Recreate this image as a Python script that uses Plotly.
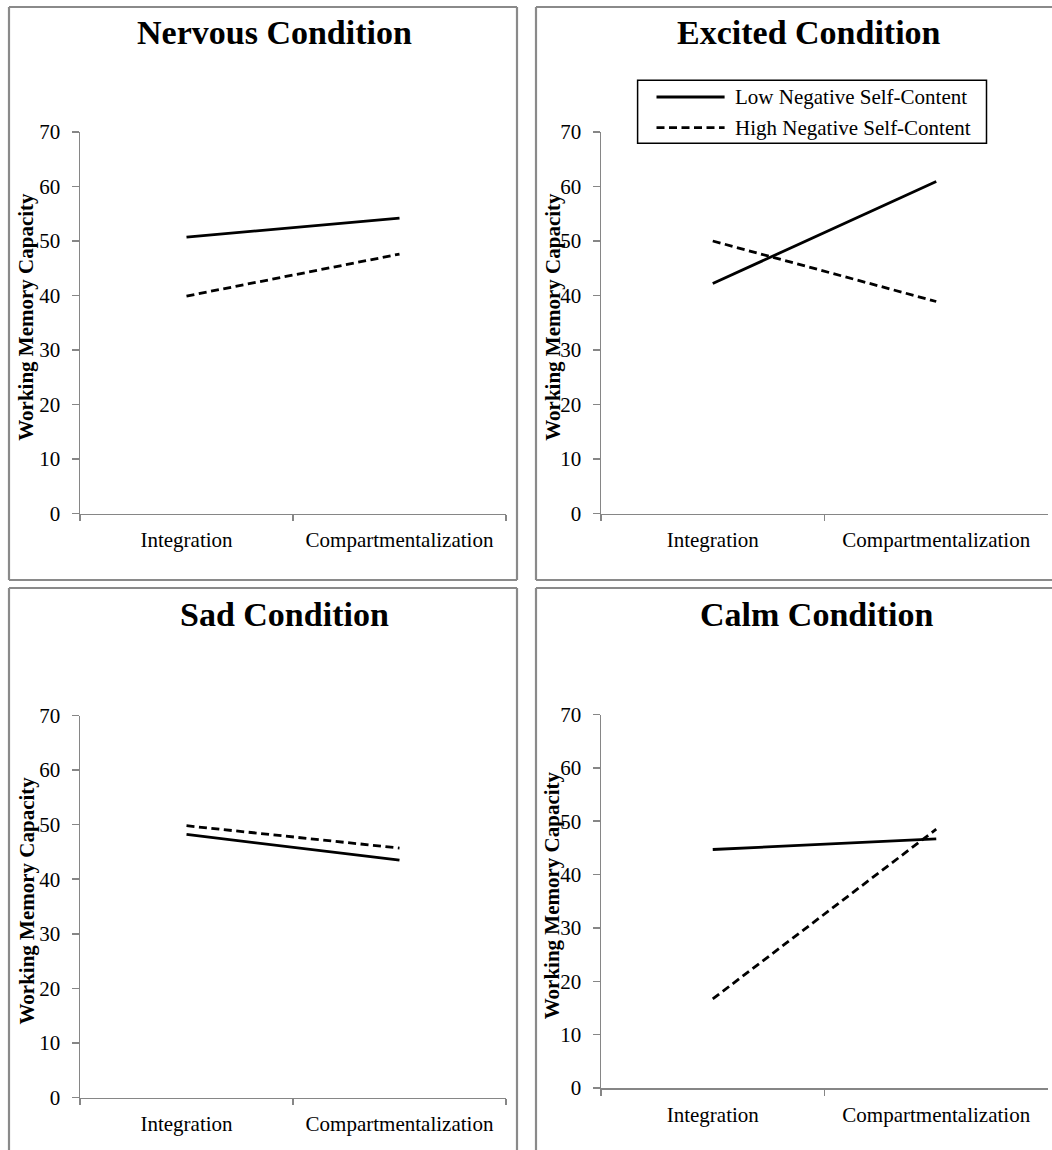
import plotly.graph_objects as go

# ---------------- data ----------------
conditions = ["Nervous Condition", "Excited Condition", "Sad Condition", "Calm Condition"]
strategies = ["Integration", "Compartmentalization"]
series_names = ["Low Negative Self-Content", "High Negative Self-Content"]

low_nervous = [50.7, 54.2]
high_nervous = [39.9, 47.6]
low_excited = [42.2, 60.9]
high_excited = [50.0, 38.9]
low_sad = [48.2, 43.5]
high_sad = [49.8, 45.7]
low_calm = [44.7, 46.7]
high_calm = [16.7, 48.5]

y_ticks = [0, 10, 20, 30, 40, 50, 60, 70]
y_title = "Working Memory Capacity"

W, H = 1052, 1150
FONT = "Liberation Serif, Times New Roman, serif"


def px(x):
    return x / W


def py(y):
    return 1 - y / H


panels = [
    dict(x0=80, x1=506, ytop=132, ybot=513.5, title_x=274, title_y=32, lab_x=26,
         box=(9, 7, 517, 580), open_right=False, open_bottom=False),
    dict(x0=601, x1=1048, ytop=132, ybot=513.5, title_x=809, title_y=32, lab_x=553,
         box=(536, 7, 1052, 580), open_right=True, open_bottom=False),
    dict(x0=80, x1=506, ytop=715.5, ybot=1097.5, title_x=284, title_y=614, lab_x=26,
         box=(9, 588, 517, 1150), open_right=False, open_bottom=True),
    dict(x0=601, x1=1048, ytop=714.5, ybot=1088, title_x=816, title_y=614, lab_x=552,
         box=(536, 588, 1052, 1150), open_right=True, open_bottom=True),
]
low_series = [low_nervous, low_excited, low_sad, low_calm]
high_series = [high_nervous, high_excited, high_sad, high_calm]

fig = go.Figure()
layout = {}
shapes = []
annotations = []

AXIS_GRAY = "#868686"
BORDER_GRAY = "#8a8a8a"
DASH = "8px,4.5px"


def seg(xa, ya, xb, yb, color, width, dash="solid"):
    return dict(type="line", xref="paper", yref="paper",
                x0=px(xa), x1=px(xb), y0=py(ya), y1=py(yb),
                line=dict(color=color, width=width, dash=dash), layer="below")


for i, (p, cond) in enumerate(zip(panels, conditions)):
    k = "" if i == 0 else str(i + 1)
    xa, ya = "x" + k, "y" + k
    fig.add_trace(go.Scatter(
        x=strategies, y=low_series[i], mode="lines", name=series_names[0],
        line=dict(color="black", width=2.8), xaxis=xa, yaxis=ya, showlegend=False))
    fig.add_trace(go.Scatter(
        x=strategies, y=high_series[i], mode="lines", name=series_names[1],
        line=dict(color="black", width=2.8, dash=DASH), xaxis=xa, yaxis=ya, showlegend=False))

    layout["xaxis" + k] = dict(
        domain=[px(p["x0"]), px(p["x1"])], anchor=ya, type="category",
        categoryorder="array", categoryarray=strategies, range=[-0.5, 1.5],
        showline=True, linecolor=AXIS_GRAY, linewidth=1.5, ticks="outside",
        tickson="boundaries", ticklen=6, tickcolor=AXIS_GRAY, tickwidth=1.5,
        showgrid=False, zeroline=False, fixedrange=True, ticklabelstandoff=7,
        automargin=False, tickfont=dict(family=FONT, size=21, color="black"))
    layout["yaxis" + k] = dict(
        domain=[py(p["ybot"]), py(p["ytop"])], anchor=xa, range=[0, 70],
        tickvals=y_ticks, showline=True, linecolor=AXIS_GRAY, linewidth=1.5,
        ticks="outside", ticklen=7, tickcolor=AXIS_GRAY, tickwidth=1.5,
        showgrid=False, zeroline=False, fixedrange=True, ticklabelstandoff=7,
        automargin=False, tickfont=dict(family=FONT, size=21, color="black"))

    bx0, by0, bx1, by1 = p["box"]
    shapes.append(seg(bx0, by0, bx1, by0, BORDER_GRAY, 2.2))
    shapes.append(seg(bx0, by0, bx0, by1, BORDER_GRAY, 2.2))
    if not p["open_right"]:
        shapes.append(seg(bx1, by0, bx1, by1, BORDER_GRAY, 2.2))
    if not p["open_bottom"]:
        shapes.append(seg(bx0, by1, bx1, by1, BORDER_GRAY, 2.2))

    annotations.append(dict(text="<b>" + cond + "</b>", xref="paper", yref="paper",
                            x=px(p["title_x"]), y=py(p["title_y"]), xanchor="center",
                            yanchor="middle", showarrow=False,
                            font=dict(family=FONT, size=34, color="black")))
    annotations.append(dict(text="<b>" + y_title + "</b>", xref="paper", yref="paper",
                            x=px(p["lab_x"]), y=py((p["ytop"] + p["ybot"]) / 2 - 6),
                            xanchor="center", yanchor="middle", textangle=-90,
                            showarrow=False, font=dict(family=FONT, size=21, color="black")))

# legend (Excited panel)
leg_box = (637.6, 80.3, 986.5, 143.2)
leg_rows = [97, 127.6]
shapes.append(dict(type="rect", xref="paper", yref="paper",
                   x0=px(leg_box[0]), x1=px(leg_box[2]), y0=py(leg_box[3]), y1=py(leg_box[1]),
                   line=dict(color="black", width=1.5), fillcolor="white"))
for name, yy, dash in zip(series_names, leg_rows, ["solid", DASH]):
    shapes.append(dict(type="line", xref="paper", yref="paper",
                       x0=px(656.5), x1=px(724.6), y0=py(yy), y1=py(yy),
                       line=dict(color="black", width=2.8, dash=dash)))
    annotations.append(dict(text=name, xref="paper", yref="paper", x=px(733), y=py(yy),
                            xanchor="left", yanchor="middle", showarrow=False,
                            font=dict(family=FONT, size=21, color="black")))

fig.update_layout(
    width=W, height=H, autosize=False,
    margin=dict(l=0, r=0, t=0, b=0, pad=0, autoexpand=False),
    paper_bgcolor="white", plot_bgcolor="white",
    font=dict(family=FONT, size=21, color="black"),
    showlegend=False, shapes=shapes, annotations=annotations, **layout)

fig.write_html(
    "out.html",
    config={"displayModeBar": False, "staticPlot": True},
    post_script="document.body.style.margin='0';document.body.style.overflow='hidden';")
